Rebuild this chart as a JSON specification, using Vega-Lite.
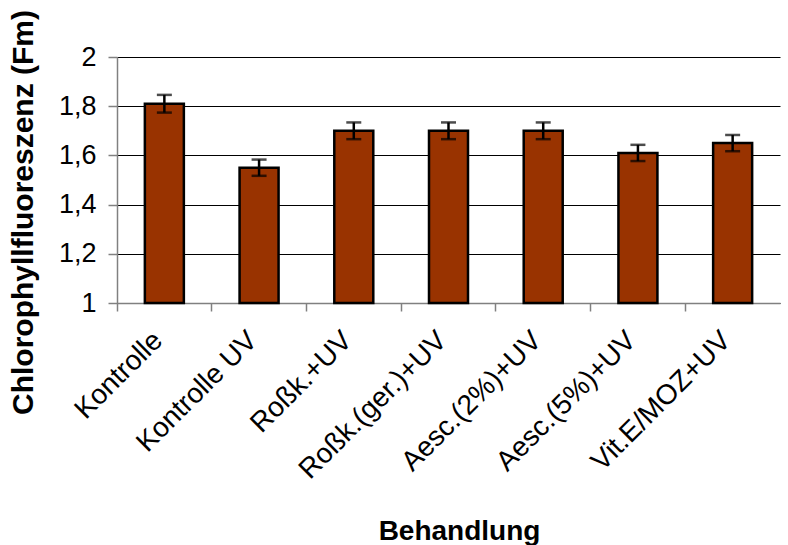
{
  "$schema": "https://vega.github.io/schema/vega-lite/v6.json",
  "autosize": "none",
  "width": 663,
  "height": 246,
  "padding": {"left": 117, "top": 57, "right": 8, "bottom": 242},
  "background": "white",
  "config": {
    "view": {"stroke": null},
    "font": "Liberation Sans"
  },
  "data": {
    "values": [
      {"Behandlung": "Kontrolle", "Fm": 1.81, "err": 0.036},
      {"Behandlung": "Kontrolle UV", "Fm": 1.55, "err": 0.033},
      {"Behandlung": "Roßk.+UV", "Fm": 1.70, "err": 0.034},
      {"Behandlung": "Roßk.(ger.)+UV", "Fm": 1.70, "err": 0.034},
      {"Behandlung": "Aesc.(2%)+UV", "Fm": 1.70, "err": 0.034},
      {"Behandlung": "Aesc.(5%)+UV", "Fm": 1.61, "err": 0.033},
      {"Behandlung": "Vit.E/MOZ+UV", "Fm": 1.65, "err": 0.033}
    ]
  },
  "transform": [
    {"calculate": "datum.Fm - datum.err", "as": "lo"},
    {"calculate": "datum.Fm + datum.err", "as": "hi"}
  ],
  "encoding": {
    "x": {
      "field": "Behandlung",
      "type": "nominal",
      "sort": null,
      "scale": {"paddingInner": 0, "paddingOuter": 0},
      "axis": {
        "title": "Behandlung",
        "titleFont": "Liberation Sans",
        "titleFontSize": 28,
        "titleFontWeight": "bold",
        "titleColor": "black",
        "titleX": 342,
        "titleY": 228,
        "titleBaseline": "middle",
        "titleAlign": "center",
        "labelFont": "Liberation Sans",
        "labelFontSize": 28,
        "labelColor": "black",
        "labelAngle": -45,
        "labelAlign": "right",
        "labelBaseline": "middle",
        "labelPadding": 25,
        "labelOffset": -6,
        "labelOverlap": false,
        "labelLimit": 400,
        "bandPosition": 0,
        "tickColor": "#808080",
        "tickSize": 8,
        "tickWidth": 1.5,
        "domainColor": "#808080",
        "domainWidth": 1.5,
        "grid": false
      }
    }
  },
  "layer": [
    {
      "mark": {"type": "bar", "color": "#993300", "stroke": "black", "strokeWidth": 2.5, "size": 39},
      "encoding": {
        "y": {
          "field": "Fm",
          "type": "quantitative",
          "scale": {"domain": [1, 2], "zero": false, "nice": false},
          "axis": {
            "title": "Chlorophyllfluoreszenz (Fm)",
            "titleFont": "Liberation Sans",
            "titleFontSize": 30,
            "titleFontWeight": "bold",
            "titleColor": "black",
            "titleAngle": -90,
            "titleX": -94,
            "titleY": 155,
            "titleAlign": "center",
            "titleBaseline": "middle",
            "values": [1, 1.2, 1.4, 1.6, 1.8, 2],
            "labelExpr": "replace(format(datum.value, '~g'), '.', ',')",
            "labelFont": "Liberation Sans",
            "labelFontSize": 27,
            "labelColor": "black",
            "labelPadding": 12,
            "labelOverlap": false,
            "tickColor": "#808080",
            "tickSize": 9,
            "tickWidth": 1.5,
            "domainColor": "#808080",
            "domainWidth": 1.5,
            "grid": true,
            "gridColor": "black",
            "gridWidth": 1.2,
            "gridOpacity": 1
          }
        },
        "y2": {"datum": 1}
      }
    },
    {
      "mark": {"type": "rule", "color": "black", "strokeWidth": 2.5},
      "encoding": {
        "y": {"field": "lo", "type": "quantitative"},
        "y2": {"field": "hi"}
      }
    },
    {
      "mark": {"type": "tick", "color": "black", "thickness": 2.5, "size": 15, "orient": "horizontal"},
      "encoding": {
        "y": {"field": "lo", "type": "quantitative"}
      }
    },
    {
      "mark": {"type": "tick", "color": "black", "thickness": 2.5, "size": 15, "orient": "horizontal"},
      "encoding": {
        "y": {"field": "hi", "type": "quantitative"}
      }
    }
  ]
}
